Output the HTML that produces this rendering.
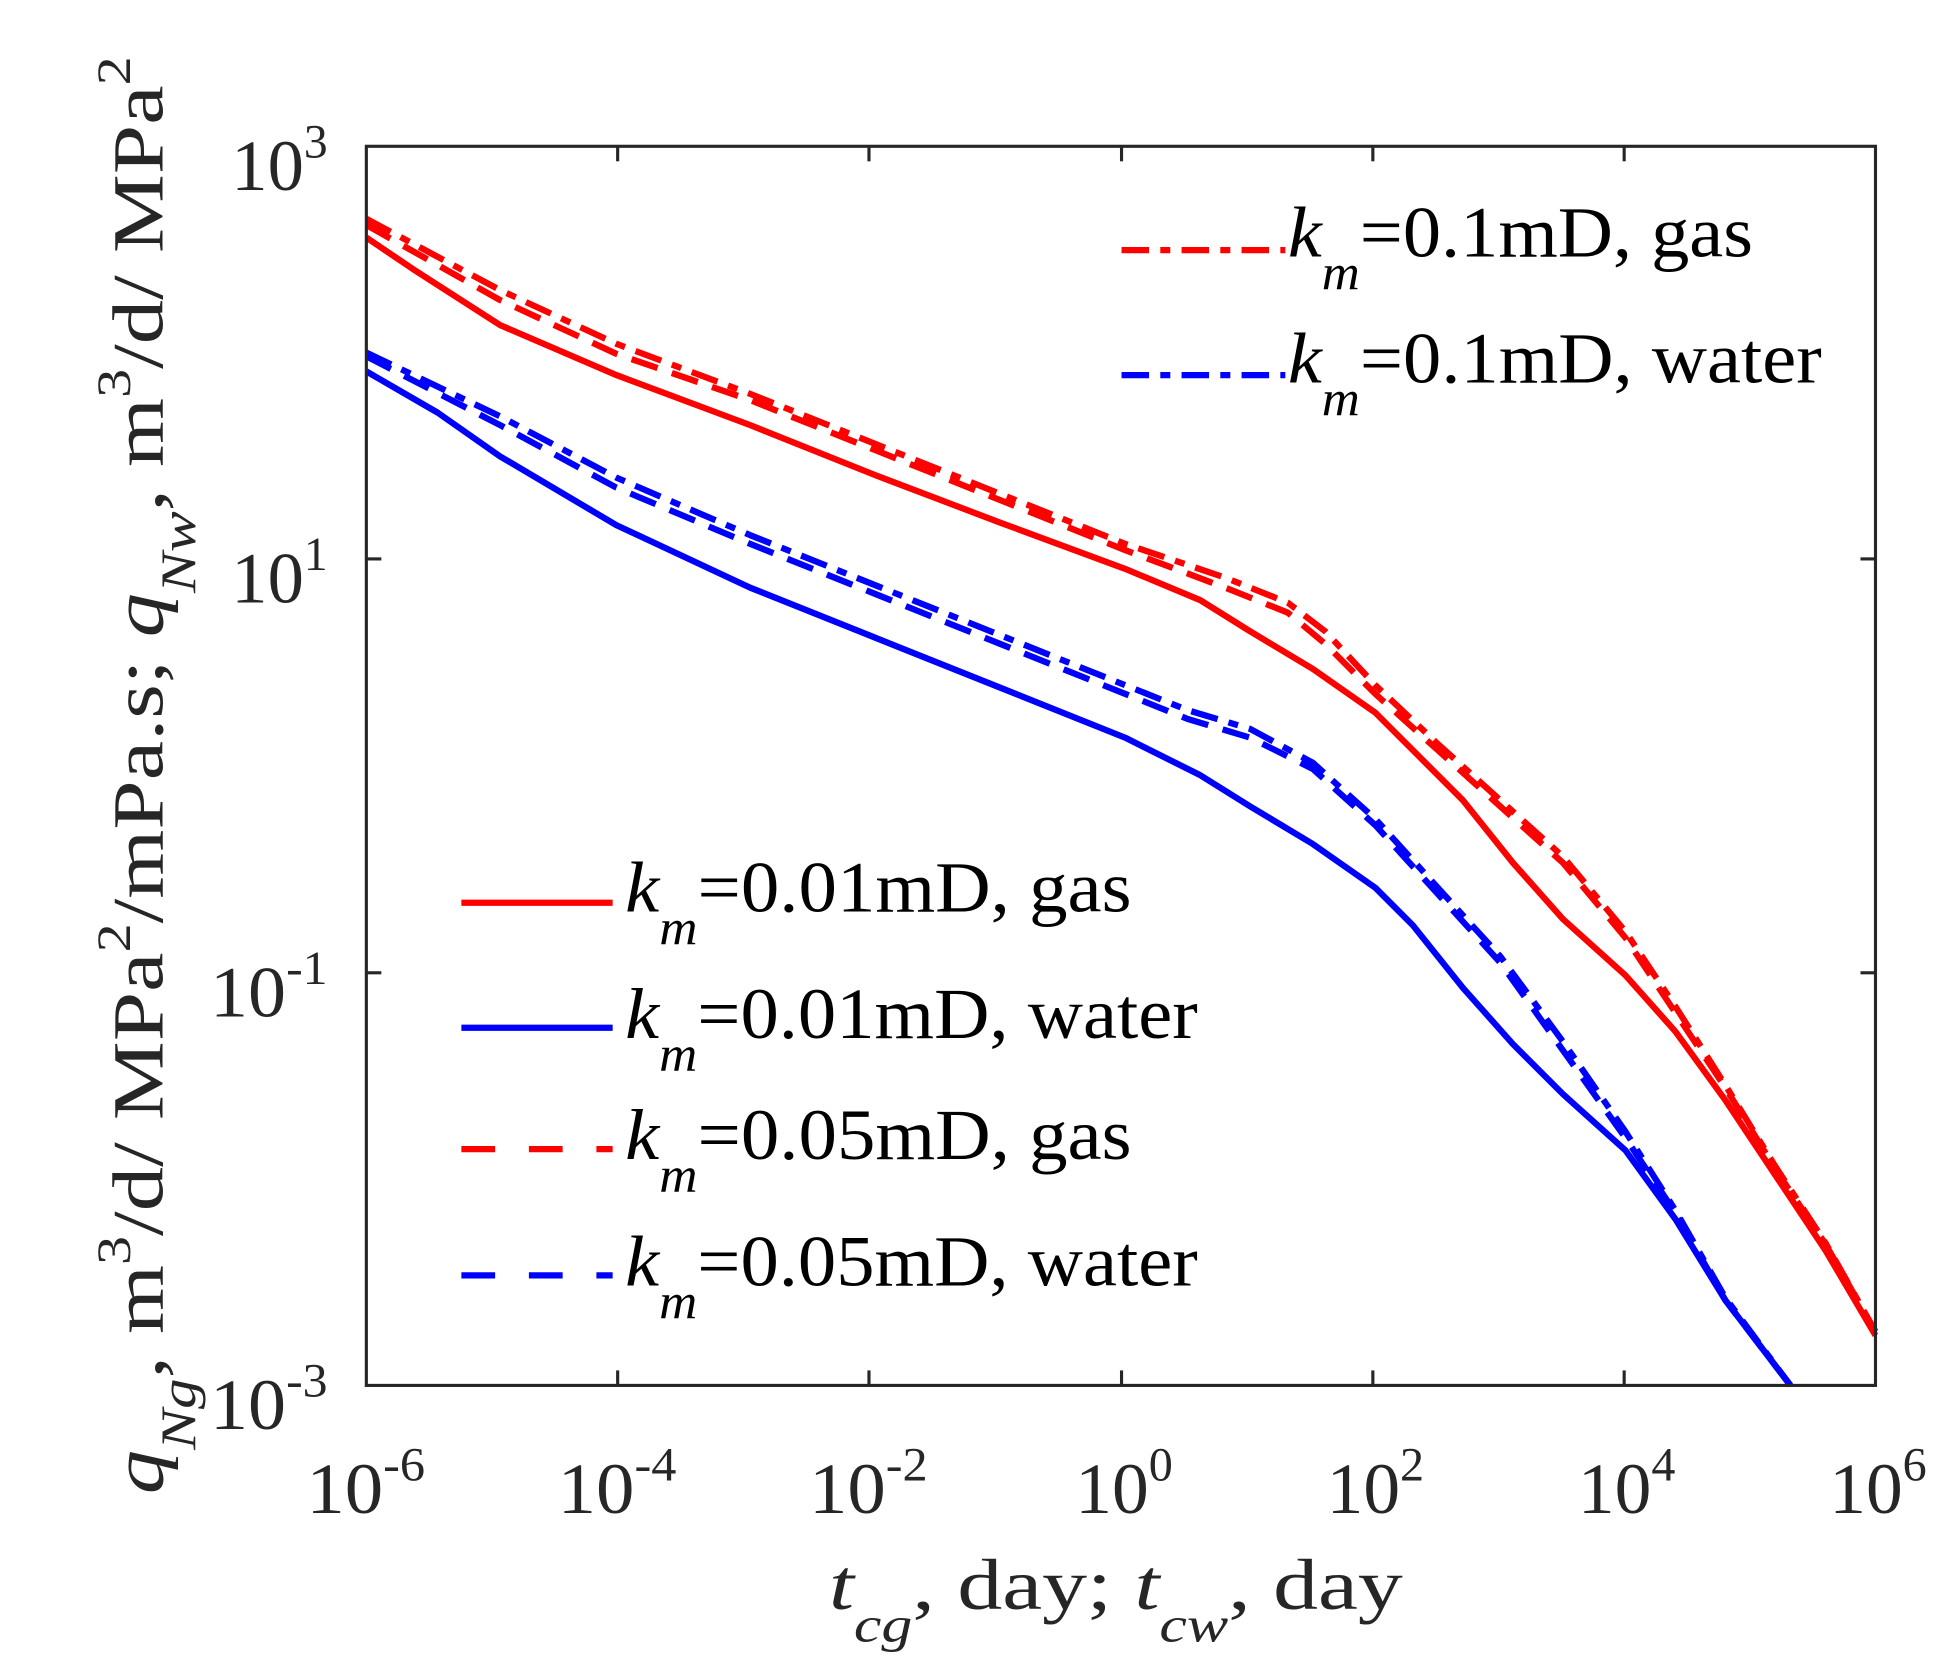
<!DOCTYPE html>
<html><head><meta charset="utf-8"><style>
html,body{margin:0;padding:0;background:#fff;}
svg{display:block;}
text{font-family:"Liberation Serif",serif;}
</style></head><body>
<svg width="1938" height="1663" viewBox="0 0 1550 1330" preserveAspectRatio="none" xmlns="http://www.w3.org/2000/svg">
<rect width="1550" height="1330" fill="#fff"/>
<g fill="none" stroke-width="5" stroke-linejoin="round">
<polyline stroke="#ff0000" points="293,190 330,215 400,260 493,300 600,340 700,380 800,418 900,455 960,480 1000,505 1050,535 1100,570 1130,600 1170,640 1210,690 1250,735 1300,780 1340,825 1380,880 1420,940 1460,1000 1500,1068"/>
<polyline stroke="#ff0000" stroke-dasharray="22,12" points="293,180 400,240 493,283 600,320 700,360 800,400 900,440 980,470 1030,490 1060,515 1100,555 1150,600 1200,645 1250,690 1300,750 1340,810 1380,870 1420,935 1460,995 1500,1065"/>
<polyline stroke="#ff0000" stroke-dasharray="22,9,8,9" points="293,175 400,232 493,275 600,315 700,355 800,395 900,435 980,462 1030,482 1060,505 1100,548 1150,595 1200,640 1250,685 1300,745 1340,805 1380,868 1420,933 1460,994 1500,1065"/>
<polyline stroke="#0000ff" points="293,297 350,330 400,365 493,420 600,470 700,510 800,550 900,590 960,620 1000,645 1050,675 1100,710 1130,740 1170,790 1210,835 1250,875 1300,920 1340,975 1380,1040 1432,1108"/>
<polyline stroke="#0000ff" stroke-dasharray="22,12" points="293,285 400,340 493,390 600,435 700,475 800,515 900,555 950,575 1000,590 1050,615 1100,660 1150,715 1200,770 1250,840 1300,910 1340,970 1380,1040 1432,1108"/>
<polyline stroke="#0000ff" stroke-dasharray="22,9,8,9" points="293,282 400,333 493,382 600,428 700,468 800,508 900,548 950,568 1000,583 1050,610 1100,655 1150,710 1200,765 1250,833 1300,905 1340,968 1380,1038 1432,1108"/>
</g>
<rect x="293" y="117" width="1207" height="991" fill="none" stroke="#262626" stroke-width="2.5"/>
<g stroke="#262626" stroke-width="2.5">
<line x1="494" y1="1108" x2="494" y2="1096"/><line x1="494" y1="117" x2="494" y2="129"/>
<line x1="695" y1="1108" x2="695" y2="1096"/><line x1="695" y1="117" x2="695" y2="129"/>
<line x1="897" y1="1108" x2="897" y2="1096"/><line x1="897" y1="117" x2="897" y2="129"/>
<line x1="1098" y1="1108" x2="1098" y2="1096"/><line x1="1098" y1="117" x2="1098" y2="129"/>
<line x1="1299" y1="1108" x2="1299" y2="1096"/><line x1="1299" y1="117" x2="1299" y2="129"/>
<line x1="293" y1="447" x2="305" y2="447"/><line x1="1500" y1="447" x2="1488" y2="447"/>
<line x1="293" y1="778" x2="305" y2="778"/><line x1="1500" y1="778" x2="1488" y2="778"/>
</g>
<g fill="#262626" font-size="58">
<text x="185" y="152" textLength="77" lengthAdjust="spacingAndGlyphs">10<tspan font-size="38" dy="-26">3</tspan></text>
<text x="185" y="482" textLength="77" lengthAdjust="spacingAndGlyphs">10<tspan font-size="38" dy="-26">1</tspan></text>
<text x="168" y="813" textLength="94" lengthAdjust="spacingAndGlyphs">10<tspan font-size="38" dy="-26">-1</tspan></text>
<text x="168" y="1143" textLength="94" lengthAdjust="spacingAndGlyphs">10<tspan font-size="38" dy="-26">-3</tspan></text>
<text x="245" y="1210" textLength="95" lengthAdjust="spacingAndGlyphs">10<tspan font-size="38" dy="-26">-6</tspan></text>
<text x="446" y="1210" textLength="95" lengthAdjust="spacingAndGlyphs">10<tspan font-size="38" dy="-26">-4</tspan></text>
<text x="647" y="1210" textLength="95" lengthAdjust="spacingAndGlyphs">10<tspan font-size="38" dy="-26">-2</tspan></text>
<text x="860" y="1210" textLength="78" lengthAdjust="spacingAndGlyphs">10<tspan font-size="38" dy="-26">0</tspan></text>
<text x="1061" y="1210" textLength="78" lengthAdjust="spacingAndGlyphs">10<tspan font-size="38" dy="-26">2</tspan></text>
<text x="1262" y="1210" textLength="78" lengthAdjust="spacingAndGlyphs">10<tspan font-size="38" dy="-26">4</tspan></text>
<text x="1463" y="1210" textLength="78" lengthAdjust="spacingAndGlyphs">10<tspan font-size="38" dy="-26">6</tspan></text>
<text x="663" y="1287" textLength="459" lengthAdjust="spacingAndGlyphs"><tspan font-style="italic">t</tspan><tspan font-size="40" font-style="italic" dy="26">cg</tspan><tspan dy="-26">, day; </tspan><tspan font-style="italic">t</tspan><tspan font-size="40" font-style="italic" dy="26">cw</tspan><tspan dy="-26">, day</tspan></text>
<text transform="translate(130,1195) rotate(-90)" textLength="1150" lengthAdjust="spacingAndGlyphs"><tspan font-style="italic">q</tspan><tspan font-size="40" font-style="italic" dy="26">Ng</tspan><tspan dy="-26">, m</tspan><tspan font-size="38" dy="-26">3</tspan><tspan dy="26">/d/ MPa</tspan><tspan font-size="38" dy="-26">2</tspan><tspan dy="26">/mPa.s; </tspan><tspan font-style="italic">q</tspan><tspan font-size="40" font-style="italic" dy="26">Nw</tspan><tspan dy="-26">, m</tspan><tspan font-size="38" dy="-26">3</tspan><tspan dy="26">/d/ MPa</tspan><tspan font-size="38" dy="-26">2</tspan></text>
</g>
<g stroke-width="5" fill="none">
<line x1="897" y1="200" x2="1028" y2="200" stroke="#ff0000" stroke-dasharray="22,9,8,9"/>
<line x1="897" y1="300" x2="1028" y2="300" stroke="#0000ff" stroke-dasharray="22,9,8,9"/>
<line x1="369" y1="722" x2="490" y2="722" stroke="#ff0000"/>
<line x1="369" y1="822" x2="490" y2="822" stroke="#0000ff"/>
<line x1="369" y1="919" x2="490" y2="919" stroke="#ff0000" stroke-dasharray="27,27"/>
<line x1="369" y1="1020" x2="490" y2="1020" stroke="#0000ff" stroke-dasharray="27,27"/>
</g>
<g fill="#000" font-size="58">
<text x="1030" y="205" textLength="372" lengthAdjust="spacingAndGlyphs"><tspan font-style="italic">k</tspan><tspan font-size="40" font-style="italic" dy="26">m</tspan><tspan dy="-26">=0.1mD, gas</tspan></text>
<text x="1030" y="306" textLength="427" lengthAdjust="spacingAndGlyphs"><tspan font-style="italic">k</tspan><tspan font-size="40" font-style="italic" dy="26">m</tspan><tspan dy="-26">=0.1mD, water</tspan></text>
<text x="500" y="729" textLength="405" lengthAdjust="spacingAndGlyphs"><tspan font-style="italic">k</tspan><tspan font-size="40" font-style="italic" dy="26">m</tspan><tspan dy="-26">=0.01mD, gas</tspan></text>
<text x="500" y="830" textLength="458" lengthAdjust="spacingAndGlyphs"><tspan font-style="italic">k</tspan><tspan font-size="40" font-style="italic" dy="26">m</tspan><tspan dy="-26">=0.01mD, water</tspan></text>
<text x="500" y="927" textLength="405" lengthAdjust="spacingAndGlyphs"><tspan font-style="italic">k</tspan><tspan font-size="40" font-style="italic" dy="26">m</tspan><tspan dy="-26">=0.05mD, gas</tspan></text>
<text x="500" y="1028" textLength="458" lengthAdjust="spacingAndGlyphs"><tspan font-style="italic">k</tspan><tspan font-size="40" font-style="italic" dy="26">m</tspan><tspan dy="-26">=0.05mD, water</tspan></text>
</g>
</svg>
</body></html>
